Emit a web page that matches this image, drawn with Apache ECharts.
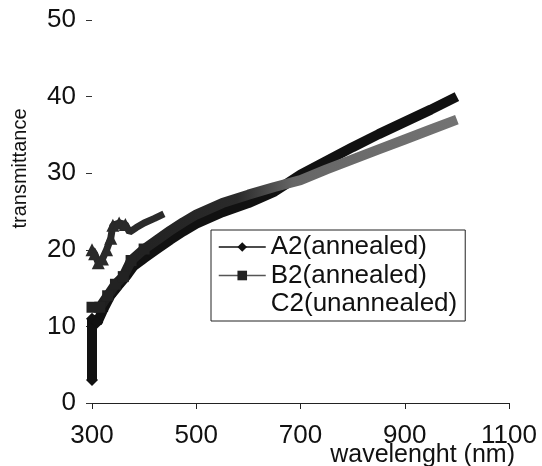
<!DOCTYPE html>
<html>
<head>
<meta charset="utf-8">
<script src="https://cdn.jsdelivr.net/npm/echarts@6/dist/echarts.min.js"></script>
<style>
  html, body { margin: 0; padding: 0; background: #fff; }
  #chart { width: 542px; height: 466px; }
</style>
</head>
<body>
<div id="chart"></div>
<script>
// 数据：波长 (nm) 与透过率
const a2Wavelength = [300, 300, 310, 320, 335, 350, 365, 380, 400, 425, 450, 475, 500, 550, 600, 650, 700, 750, 800, 850, 900, 950, 1000]
const a2Values = [3, 11, 10.5, 12, 14, 15.3, 16.5, 17.9, 18.9, 20.1, 21.3, 22.4, 23.4, 24.9, 26.1, 27.6, 29.8, 31.6, 33.4, 35.1, 36.7, 38.3, 40]

const b2Wavelength = [300, 315, 330, 345, 360, 375, 400, 425, 450, 475, 500, 550, 600, 650, 700, 750, 800, 850, 900, 950, 1000]
const b2Values = [12.5, 12.5, 14, 15.5, 16.5, 18.6, 20.1, 21.3, 22.5, 23.6, 24.6, 26.1, 27.2, 28.2, 29.1, 30.5, 31.8, 33.1, 34.4, 35.7, 37]

const c2Wavelength = [300, 305, 312, 320, 328, 336, 340, 352, 364, 372, 385, 400, 420, 438]
const c2Values = [20, 19.5, 18.3, 18.8, 20, 21.5, 23.2, 23.5, 23.3, 22.3, 22.9, 23.5, 24.1, 24.7]

const seriesNames = ['A2(annealed)', 'B2(annealed)', 'C2(unannealed)']
const xTicks = [300, 500, 700, 900, 1100]
const yTicks = [0, 10, 20, 30, 40, 50]

const toPairs = (xs, ys) => xs.map((x, i) => [x, ys[i]])

// 只在前段显示标记，后段数据点很密，原图是一条平滑粗线
const markerSize = (size, limit) => val => (val[0] < limit ? size : 0)

const font = '"Liberation Sans", Arial, sans-serif'

const chart = echarts.init(document.getElementById('chart'))

chart.setOption({
  animation: false,
  backgroundColor: '#fff',
  grid: { left: 92, right: 33, top: 20, bottom: 63, containLabel: false, outerBoundsMode: 'none' },
  legend: {
    orient: 'vertical',
    left: 211,
    top: 230,
    backgroundColor: '#fff',
    borderColor: '#222',
    borderWidth: 1,
    padding: [4, 8, 4, 7],
    itemGap: 2.5,
    itemWidth: 47,
    itemHeight: 12,
    lineStyle: { width: 1.5, color: 'inherit' },
    textStyle: { fontFamily: font, fontSize: 26, color: '#111' },
    data: [
      { name: seriesNames[0] },
      { name: seriesNames[1], lineStyle: { color: '#555' } },
      { name: seriesNames[2], icon: 'none' }
    ]
  },
  xAxis: {
    type: 'value',
    min: xTicks[0],
    max: xTicks[xTicks.length - 1],
    interval: 200,
    name: 'wavelenght (nm)',
    nameLocation: 'end',
    nameGap: 6,
    nameMoveOverlap: false,
    nameTextStyle: {
      fontFamily: font, fontSize: 25, color: '#111',
      align: 'right', verticalAlign: 'top', padding: [40, 0, 0, 0]
    },
    splitLine: { show: false },
    axisLine: { show: true, lineStyle: { color: '#222', width: 1 } },
    axisTick: { show: true, length: 6, lineStyle: { color: '#222' } },
    axisLabel: { margin: 20, fontFamily: font, fontSize: 26, color: '#111', formatter: v => String(v) }
  },
  yAxis: {
    type: 'value',
    min: yTicks[0],
    max: yTicks[yTicks.length - 1],
    interval: 10,
    name: 'transmittance',
    nameLocation: 'middle',
    nameGap: 62,
    nameMoveOverlap: false,
    nameTextStyle: { fontFamily: font, fontSize: 20, color: '#111', padding: [0, 0, 0, 86] },
    splitLine: { show: false },
    axisLine: { show: false },
    axisTick: { show: true, length: 6, lineStyle: { color: '#333' } },
    axisLabel: { margin: 16, fontFamily: font, fontSize: 26, color: '#111', formatter: v => String(v) }
  },
  series: [
    {
      name: seriesNames[0],
      type: 'line',
      data: toPairs(a2Wavelength, a2Values),
      symbol: 'diamond',
      symbolSize: markerSize(12, 420),
      showSymbol: true,
      color: '#111',
      lineStyle: { width: 10, color: '#111' },
      itemStyle: { color: '#111' },
      z: 2
    },
    {
      name: seriesNames[1],
      type: 'line',
      data: toPairs(b2Wavelength, b2Values),
      symbol: 'rect',
      symbolSize: markerSize(11, 420),
      showSymbol: true,
      color: '#555',
      lineStyle: {
        width: 10,
        // 原图前段基本是黑色，从 550nm 附近开始变成灰色网点
        color: new echarts.graphic.LinearGradient(0, 0, 1, 0, [
          { offset: 0, color: '#1e1e1e' },
          { offset: 0.4, color: '#2a2a2a' },
          { offset: 0.55, color: '#666' },
          { offset: 1, color: '#737373' }
        ])
      },
      itemStyle: { color: '#222' },
      z: 3
    },
    {
      name: seriesNames[2],
      type: 'line',
      data: toPairs(c2Wavelength, c2Values),
      symbol: 'triangle',
      symbolSize: markerSize(13, 372),
      showSymbol: true,
      color: '#2a2a2a',
      lineStyle: { width: 7, color: '#2a2a2a' },
      itemStyle: { color: '#2a2a2a' },
      z: 3
    }
  ]
})
</script>
</body>
</html>
